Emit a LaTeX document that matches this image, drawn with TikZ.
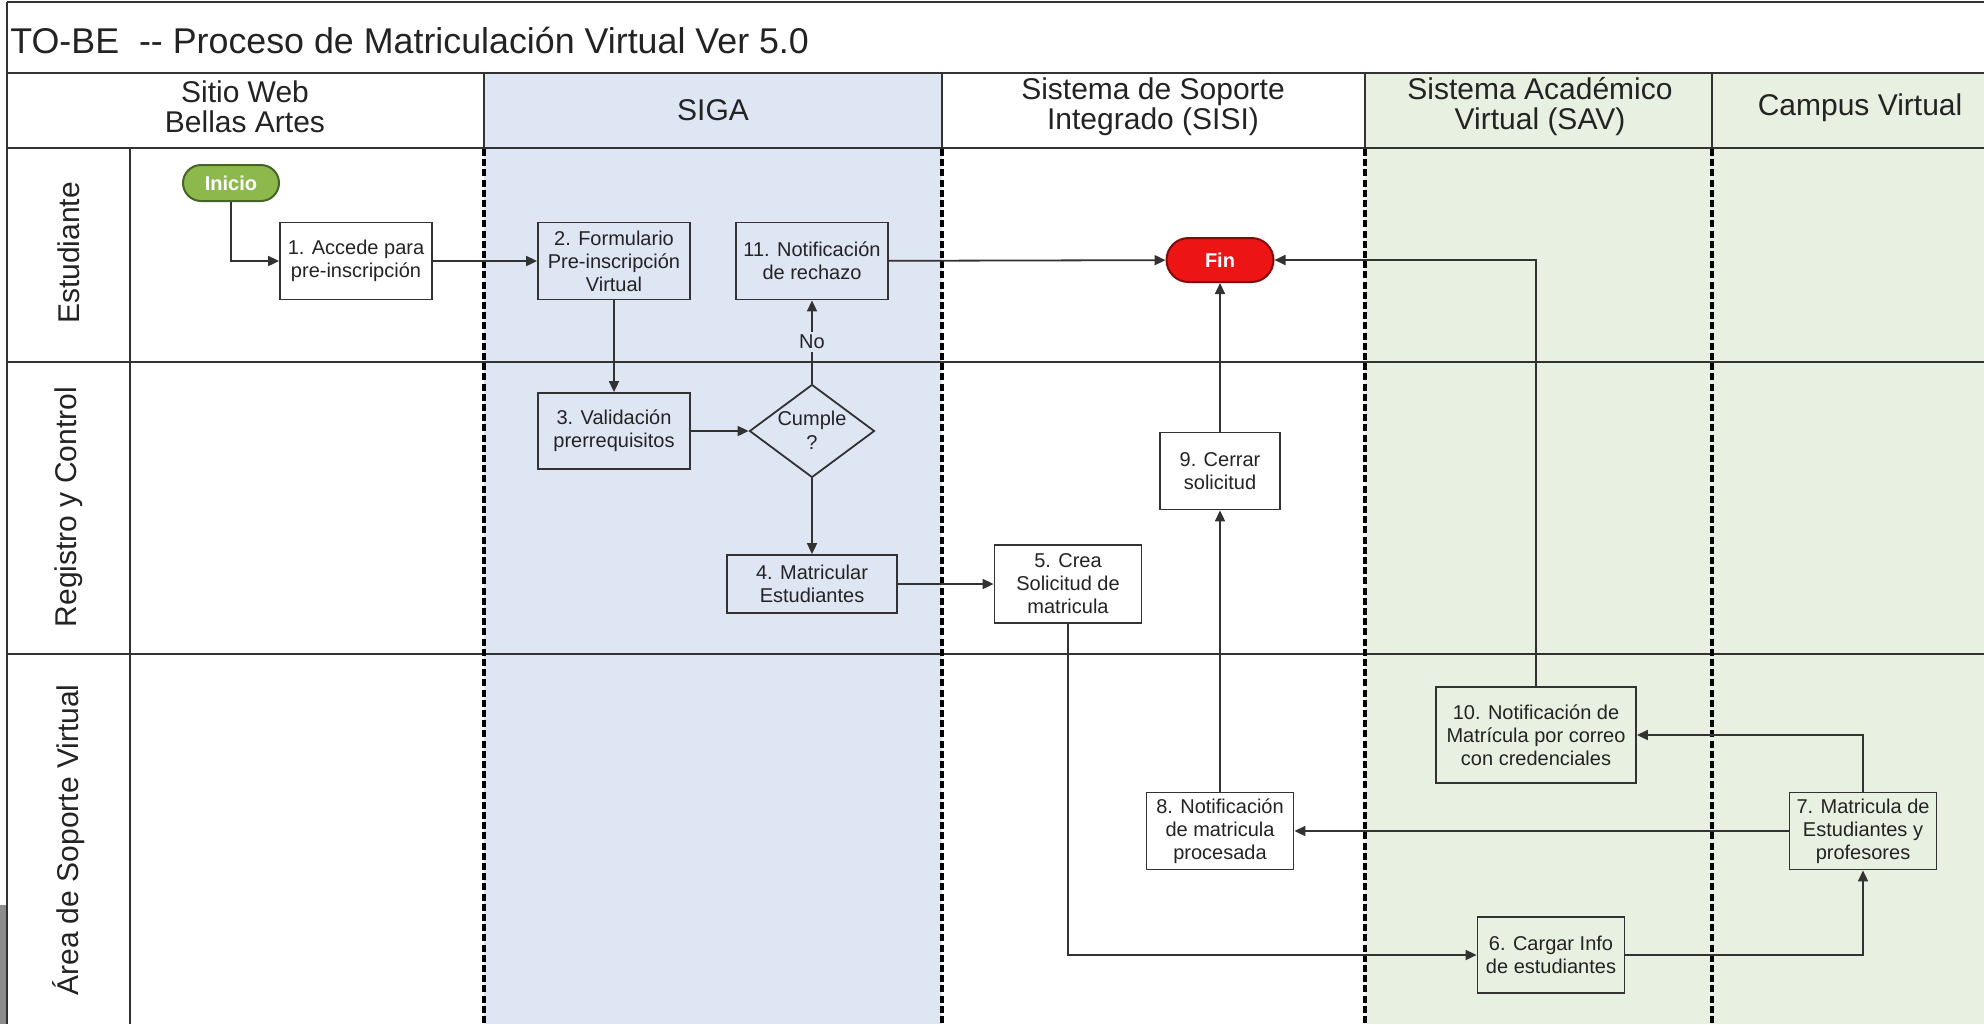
\documentclass[tikz,border=0pt]{standalone}
\usepackage{fontspec}
\setmainfont{Liberation Sans}
\newfontfamily\plainfont{Liberation Sans}
\usetikzlibrary{arrows.meta,shapes.geometric}
\definecolor{sigablue}{RGB}{222,230,244}
\definecolor{savgreen}{RGB}{232,240,225}
\definecolor{linegray}{RGB}{50,50,50}
\definecolor{inigreen}{RGB}{141,185,76}
\definecolor{inidark}{RGB}{70,100,40}
\definecolor{finred}{RGB}{236,20,20}
\definecolor{findark}{RGB}{130,10,10}
\definecolor{txt}{RGB}{35,35,35}
\begin{document}
\begin{tikzpicture}[x=0.5pt,y=-0.5pt,
  proc/.style={draw=linegray, line width=0.9pt, align=center, inner sep=1pt,
    font=\fontsize{10}{11.5}\selectfont, text=txt},
  term/.style={rounded corners=9pt, line width=1pt, align=center, inner sep=1pt,
    font=\fontsize{10}{12}\selectfont\bfseries, text=white},
  arr/.style={draw=linegray, line width=0.9pt, -{Triangle[length=5.5pt,width=5pt]}},
  sepline/.style={line width=1.8pt, dash pattern=on 3.5pt off 1.6pt, black},
  lanel/.style={draw=linegray, line width=1.3pt},
  hdr/.style={align=center, font=\fontsize{15}{15}\selectfont, text=txt}]
\useasboundingbox (0,0) rectangle (1984,1024);
\fill[white] (0,0) rectangle (1984,1024);
\fill[black!45] (0,905) rectangle (6,1024);
% column backgrounds
\fill[sigablue] (484,73) rectangle (942,1024);
\fill[savgreen] (1365,73) rectangle (1984,1024);
% frame and lane lines
\draw[lanel] (7,2) -- (1984,2);
\draw[lanel] (7,2) -- (7,1024);
\draw[lanel] (7,73) -- (1984,73);
\draw[lanel] (7,148) -- (1984,148);
\draw[lanel] (7,362) -- (1984,362);
\draw[lanel] (7,654) -- (1984,654);
\draw[lanel] (130,148) -- (130,1024);
\foreach \xx in {484,942,1365,1712} {
  \draw[lanel] (\xx,73) -- (\xx,148);
  \draw[sepline] (\xx,149) -- (\xx,1024);
}
% title
\node[anchor=west, font=\plainfont\fontsize{17.9}{20}\selectfont, text=txt, inner sep=0pt] (title) at (10,40) {TO-BE\ \ -- Proceso de Matriculación Virtual Ver 5.0};
% headers
\node[hdr] (hweb) at (245,107) {Sitio Web\\Bellas Artes};
\node[hdr] (hsiga) at (713,110) {SIGA};
\node[hdr] (hsisi) at (1153,107) {Sistema de Soporte\\Integrado (SISI)};
\node[hdr] (hsav) at (1540,107) {Sistema Académico\\Virtual (SAV)};
\node[hdr] (hcv) at (1860,108) {Campus Virtual};
% lane labels
\node[hdr, rotate=90] (lest) at (69,253) {Estudiante};
\node[hdr, rotate=90] (lreg) at (69,507) {Registro y Control};
\node[hdr, rotate=90] (lasv) at (69,840) {Área de Soporte Virtual};
% terminals
\node[term, fill=inigreen, draw=inidark, minimum width=48pt, minimum height=18pt] (inicio) at (231,183) {Inicio};
\node[term, rounded corners=11pt, fill=finred, draw=findark, minimum width=53.5pt, minimum height=22pt] (fin) at (1220,260) {Fin};
% process boxes
\node[proc, minimum width=76pt, minimum height=38.5pt] (b1) at (356,261) {1. Accede para\\pre-inscripción};
\node[proc, minimum width=76pt, minimum height=38.5pt] (b2) at (614,261) {2. Formulario\\Pre-inscripción\\Virtual};
\node[proc, minimum width=76pt, minimum height=38.5pt] (b11) at (812,261) {11. Notificación\\de rechazo};
\node[proc, minimum width=76pt, minimum height=38pt] (b3) at (614,431) {3. Validación\\prerrequisitos};
\node[diamond, draw=linegray, line width=0.9pt, minimum width=62.5pt, minimum height=46.5pt, inner sep=0pt] (d) at (812,431) {};
\node[align=center, font=\fontsize{10}{12}\selectfont, text=txt, inner sep=0pt] (dtext) at (812,430) {Cumple\\?};
\node[proc, minimum width=85pt, minimum height=29pt] (b4) at (812,584) {4. Matricular\\Estudiantes};
\node[proc, minimum width=73.5pt, minimum height=39pt] (b5) at (1068,584) {5. Crea\\Solicitud de\\matricula};
\node[proc, minimum width=60pt, minimum height=38.5pt] (b9) at (1220,471) {9. Cerrar\\solicitud};
\node[proc, minimum width=100pt, minimum height=48pt] (b10) at (1536,735) {10. Notificación de\\Matrícula por correo\\con credenciales};
\node[proc, minimum width=73.5pt, minimum height=38.5pt] (b8) at (1220,831) {8. Notificación\\de matricula\\procesada};
\node[proc, minimum width=73.5pt, minimum height=38.5pt] (b7) at (1863,831) {7. Matricula de\\Estudiantes y\\profesores};
\node[proc, minimum width=73.5pt, minimum height=38pt] (b6) at (1551,955) {6. Cargar Info\\de estudiantes};
% connectors
\draw[arr] (inicio.south) |- (b1.west);
\draw[arr] (b1) -- (b2);
\draw[arr] (b2) -- (b3);
\draw[arr] (b3) -- (d);
\draw[arr] (d.north) -- node[fill=sigablue, inner sep=1.5pt, font=\fontsize{10}{12}\selectfont, text=txt] (nolbl) {No} (b11.south);
\draw[arr] (d.south) -- (b4.north);
\draw[arr] (b4) -- (b5);
\draw[arr] (b5.south) |- (b6.west);
\draw[arr] (b6.east) -| (b7.south);
\draw[arr] (b7.north) |- (b10.east);
\draw[arr] (b7.west) -- (b8.east);
\draw[arr] (b8) -- (b9);
\draw[arr] (b9) -- (fin);
\draw[arr] (b10.north) |- (fin.east);
\draw[arr] (b11) -- (fin);
\end{tikzpicture}
\end{document}
